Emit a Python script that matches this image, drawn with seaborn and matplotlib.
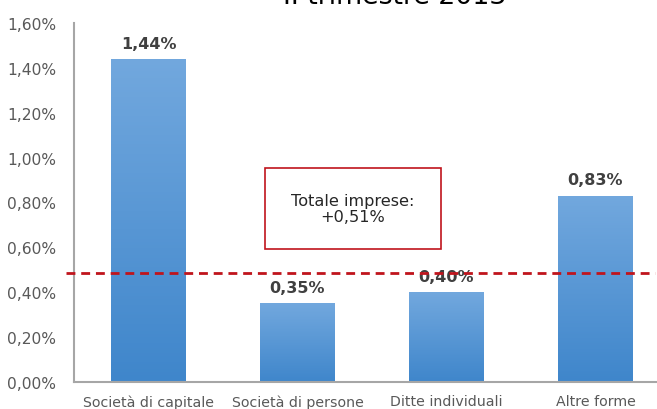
import numpy as np
import pandas as pd
import matplotlib.pyplot as plt
import matplotlib.transforms as mtransforms
from matplotlib.colors import LinearSegmentedColormap
from matplotlib.patches import Rectangle
import seaborn as sns

# data
categories = ["Società di capitale", "Società di persone", "Ditte individuali", "Altre forme"]
growth = [1.44, 0.35, 0.40, 0.83]          # % change
bar_labels = ["1,44%", "0,35%", "0,40%", "0,83%"]
total_line = 0.485                          # dashed reference line (as drawn)
total_text = "Totale imprese:\n+0,51%"
yticks = [0.0, 0.2, 0.4, 0.6, 0.8, 1.0, 1.2, 1.4, 1.6]
title = "II trimestre 2013"

SPINE = "#a6a6a6"; TICK = "#595959"; LAB = "#404040"; RED = "#c0141c"
TOP_C = "#72a8de"; BOT_C = "#3f86cb"

sns.set_theme(style="white")
plt.rcParams["font.family"] = ["DejaVu Sans"]

df = pd.DataFrame({"cat": categories, "val": growth})

fig = plt.figure(figsize=(6.57, 4.10), dpi=100)
ax = fig.add_axes([74/657, 1 - 383/410, 596/657, 359/410])

sns.barplot(data=df, x="cat", y="val", order=categories, color=BOT_C,
            width=0.5, ax=ax, saturation=1)

# vertical gradient on each bar
cmap = LinearSegmentedColormap.from_list("bar", [BOT_C, TOP_C])
grad = np.linspace(0, 1, 256).reshape(-1, 1)
for p in ax.patches:
    x0, y0 = p.get_x(), p.get_y()
    w, h = p.get_width(), p.get_height()
    im = ax.imshow(grad, extent=[x0, x0 + w, y0, y0 + h], origin="lower",
                   aspect="auto", cmap=cmap, zorder=2)
    im.set_clip_path(p)
    p.set_edgecolor("none")

ax.set_xlim(-0.5, 3.5)
ax.set_ylim(0, 1.6)
ax.set_yticks(yticks)
ax.set_yticklabels([f"{v:.2f}".replace(".", ",") + "%" for v in yticks],
                   fontsize=11.2, color=TICK)
ax.set_xticks(range(len(categories)))
ax.set_xticklabels(categories, fontsize=10.2, color=TICK)
ax.tick_params(axis="x", length=0, pad=9)
ax.tick_params(axis="y", length=0, pad=13)
ax.set_xlabel(""); ax.set_ylabel("")
for s in ["top", "right"]:
    ax.spines[s].set_visible(False)
for s in ["left", "bottom"]:
    ax.spines[s].set_color(SPINE)
    ax.spines[s].set_linewidth(1.5)

# value labels
for i, (v, lab) in enumerate(zip(growth, bar_labels)):
    ax.annotate(lab, (i, v), xytext=(0, 6), textcoords="offset points",
                ha="center", va="bottom", fontsize=11.5, fontweight="bold",
                color=LAB, zorder=4)

# dashed total line, sticking out a little left of the axis
trans = mtransforms.blended_transform_factory(ax.transAxes, ax.transData)
ax.plot([-0.0134, 0.975], [total_line, total_line], transform=trans,
        color=RED, lw=2, ls=(0, (3.2, 2.1)), clip_on=False, zorder=5)

# boxed total
ax.add_patch(Rectangle((0.3205, 0.3705), 0.2953, 0.2256, transform=ax.transAxes,
                       facecolor="white", edgecolor=RED, lw=1.2, zorder=6))
ax.text(0.468, 0.483, total_text, transform=ax.transAxes, ha="center",
        va="center", fontsize=11.6, color="#262626", zorder=7,
        linespacing=1.1)

# title, mostly cut by the top edge as in the source
fig.text(395/657, 1 - 4/410, title, ha="center", va="baseline",
         fontsize=19.3, color="#000000")

fig.savefig("out.png", dpi=100)
